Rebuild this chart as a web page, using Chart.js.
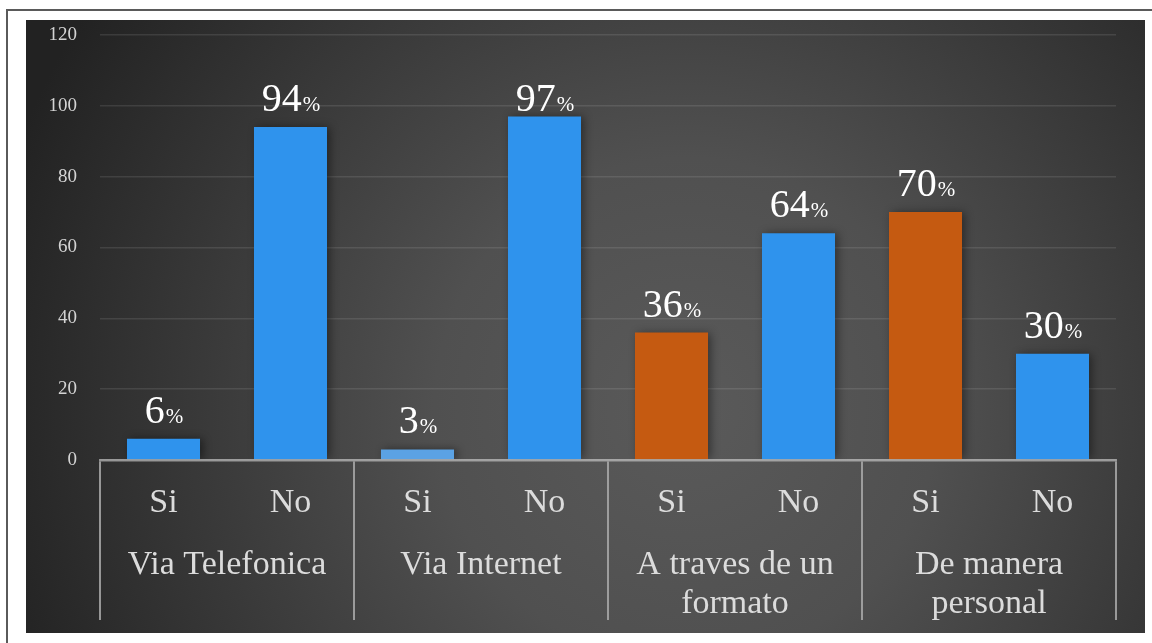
<!DOCTYPE html>
<html>
<head>
<meta charset="utf-8">
<script src="https://cdn.jsdelivr.net/npm/chart.js@4.4.1/dist/chart.umd.min.js"></script>
<style>
  html, body { margin: 0; padding: 0; background: #ffffff; width: 1152px; height: 643px; overflow: hidden; }
  #frame { position: absolute; left: 6px; top: 9px; width: 1160px; height: 650px;
           border-top: 2px solid #5a5a5a; border-left: 2px solid #5a5a5a; }
  #wrap { position: absolute; left: 26px; top: 20px; width: 1119px; height: 613px; }
</style>
</head>
<body>
<div id="frame"></div>
<div id="wrap"><canvas id="c"></canvas></div>
<script>
// ---- data ----
const answers = ["Si", "No", "Si", "No", "Si", "No", "Si", "No"];
const groups = ["Via Telefonica", "Via Internet", ["A traves de un", "formato"], ["De manera", "personal"]];
const values = [6, 94, 3, 97, 36, 64, 70, 30];
const barColors = ["#2f93ed", "#2f93ed", "#5ba2e4", "#2f93ed", "#c55a11", "#2f93ed", "#c55a11", "#2f93ed"];
const yTicks = { min: 0, max: 120, step: 20 };

const SERIF = "'Liberation Serif', 'Times New Roman', serif";
const SEP = "rgba(170,170,170,0.85)";

const bgPlugin = {
  id: 'bg',
  beforeDraw(chart) {
    const { ctx, width, height } = chart;
    ctx.save();
    const g = ctx.createRadialGradient(660, 390, 0, 660, 390, 720);
    g.addColorStop(0, '#5a5a5a');
    g.addColorStop(0.35, '#505050');
    g.addColorStop(1, '#222222');
    ctx.fillStyle = g;
    ctx.fillRect(0, 0, width, height);
    ctx.restore();
  }
};

const shadowPlugin = {
  id: 'shadow',
  beforeDatasetDraw(chart) {
    const ctx = chart.ctx;
    ctx.save();
    ctx.shadowColor = 'rgba(0,0,0,0.45)';
    ctx.shadowBlur = 9;
    ctx.shadowOffsetX = 3;
    ctx.shadowOffsetY = 0;
  },
  afterDatasetDraw(chart) {
    chart.ctx.restore();
  }
};

const labelPlugin = {
  id: 'pctLabels',
  afterDatasetsDraw(chart) {
    const ctx = chart.ctx;
    const meta = chart.getDatasetMeta(0);
    const ceiling = chart.chartArea.top + 76;
    ctx.save();
    ctx.fillStyle = '#ffffff';
    ctx.textBaseline = 'alphabetic';
    ctx.textAlign = 'left';
    meta.data.forEach((bar, i) => {
      const num = String(chart.data.datasets[0].data[i]);
      const bigFont = '40px ' + SERIF;
      const smallFont = '21px ' + SERIF;
      ctx.font = bigFont;
      const w1 = ctx.measureText(num).width;
      ctx.font = smallFont;
      const w2 = ctx.measureText('%').width;
      const x0 = bar.x - (w1 + w2) / 2;
      const yb = Math.max(bar.y - 16, ceiling);
      ctx.font = bigFont;
      ctx.fillText(num, x0, yb);
      ctx.font = smallFont;
      ctx.fillText('%', x0 + w1 + 1, yb);
    });
    ctx.restore();
  }
};

const sepColor = (c) => (c.index === undefined || c.index % 2 === 0) ? SEP : 'rgba(0,0,0,0)';

new Chart(document.getElementById('c'), {
  type: 'bar',
  data: {
    labels: answers,
    datasets: [{
      data: values,
      backgroundColor: barColors,
      borderWidth: 0,
      categoryPercentage: 1,
      barPercentage: 0.575
    }]
  },
  options: {
    responsive: true,
    maintainAspectRatio: false,
    animation: false,
    devicePixelRatio: 1,
    layout: { padding: { left: 0, right: 29, top: 15, bottom: 13 } },
    plugins: { legend: { display: false }, tooltip: { enabled: false } },
    scales: {
      y: {
        min: yTicks.min, max: yTicks.max,
        ticks: { stepSize: yTicks.step, color: '#d4d4d4', font: { family: SERIF, size: 19 }, padding: 1 },
        grid: { color: 'rgba(255,255,255,0.1)', lineWidth: 1.5, drawTicks: true, tickLength: 22,
                tickColor: 'rgba(0,0,0,0)' },
        border: { display: false },
        afterFit(s) { s.width = 74; }
      },
      x: {
        offset: true,
        grid: { display: true, offset: true, drawOnChartArea: false, tickLength: 70,
                color: sepColor, tickColor: sepColor, lineWidth: 2 },
        border: { display: true, color: 'rgba(200,200,200,0.65)', width: 2.5, z: 1 },
        ticks: { color: '#dcdcdc', font: { family: SERIF, size: 34, lineHeight: 1.13 },
                 padding: -46, maxRotation: 0, autoSkip: false },
        afterFit(s) { s.height = 70; }
      },
      x2: {
        type: 'category',
        position: 'bottom',
        labels: groups,
        offset: true,
        grid: { display: true, offset: true, drawOnChartArea: false, tickLength: 90,
                color: SEP, tickColor: SEP, lineWidth: 2 },
        border: { display: false },
        ticks: { color: '#dcdcdc', font: { family: SERIF, size: 34, lineHeight: 1.13 },
                 padding: -74, maxRotation: 0, autoSkip: false },
        afterFit(s) { s.height = 90; }
      }
    }
  },
  plugins: [bgPlugin, shadowPlugin, labelPlugin]
});
</script>
</body>
</html>
